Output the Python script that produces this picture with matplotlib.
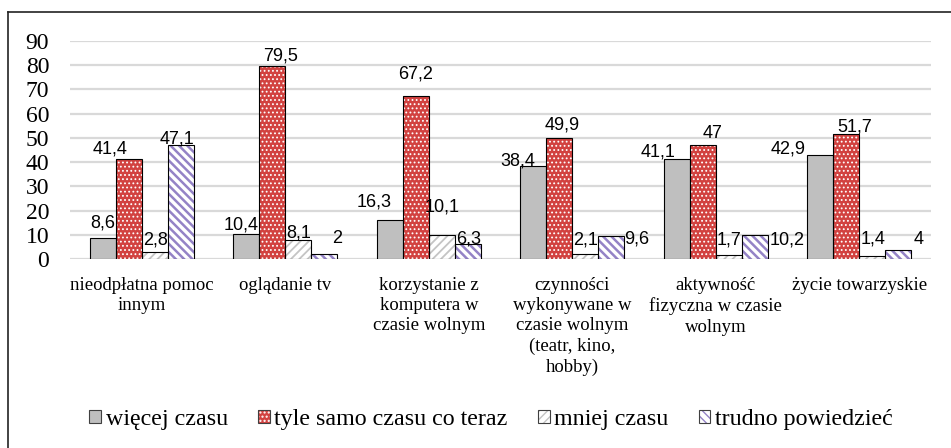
import matplotlib
matplotlib.use("Agg")
import matplotlib.pyplot as plt
import numpy as np
from matplotlib.patches import Patch
from matplotlib.lines import Line2D
from matplotlib.legend_handler import HandlerTuple

categories = ["nieodpłatna pomoc\ninnym", "oglądanie tv",
              "korzystanie z\nkomputera w\nczasie wolnym",
              "czynności\nwykonywane w\nczasie wolnym\n(teatr, kino,\nhobby)",
              "aktywność\nfizyczna w czasie\nwolnym", "życie towarzyskie"]
series_names = ["więcej czasu", "tyle samo czasu co teraz", "mniej czasu", "trudno powiedzieć"]
more = [8.6, 10.4, 16.3, 38.4, 41.1, 42.9]
same = [41.4, 79.5, 67.2, 49.9, 47, 51.7]
less = [2.8, 8.1, 10.1, 2.1, 1.7, 1.4]
hard = [47.1, 2, 6.3, 9.6, 10.2, 4]
yticks = [0, 10, 20, 30, 40, 50, 60, 70, 80, 90]

# label offsets (pixels) relative to bar top-center
off_more = [(0, 10.7), (-5.2, 5), (-15.7, 13), (-15.7, 1), (-18.7, 2.8), (-32, 1.8)]
off_same = [(-18.7, 5.4), (8, 6.2), (0, 17.8), (3, 8.8), (10, 7.4), (8, 2)]
off_less = [(0.8, 8.2), (0, 2.3), (0.5, 23), (0, 10), (0, 11), (0.8, 12)]
off_hard = [(-3.8, 1.6), (13, 11), (1, 0.7), (25, -8), (32, -9.5), (20, 5.6)]

styles = [
    dict(face="#bfbfbf", hatch=None, hcol=None, hlw=1.0),
    dict(face="#d24240", hatch="....", hcol="white", hlw=0.8),
    dict(face="white", hatch="////", hcol="#c4c4c4", hlw=1.3),
    dict(face="white", hatch="\\\\\\\\", hcol="#9483c6", hlw=1.8),
]

SERIF = "Liberation Serif"
SANS = "Liberation Sans"

W, H = 951, 448
fig = plt.figure(figsize=(W / 100, H / 100), dpi=100)
ax = fig.add_axes([70 / W, (H - 259.3) / H, (931 - 70) / W, (259.3 - 40.7) / H])

x = np.arange(len(categories))
bw = 0.181
data = [more, same, less, hard]
offs = [off_more, off_same, off_less, off_hard]
handles = []
for i, (vals, st) in enumerate(zip(data, styles)):
    pos = x + (i - 1.5) * bw
    with plt.rc_context({"hatch.linewidth": st["hlw"]}):
        if st["hatch"]:
            bars_fill = ax.bar(pos, vals, bw, color=st["face"], edgecolor=st["hcol"],
                               hatch=st["hatch"], linewidth=0, zorder=2)
            for b in bars_fill:
                if hasattr(b, "set_hatch_linewidth"):
                    b.set_hatch_linewidth(st["hlw"])
            fill_h = Patch(facecolor=st["face"], edgecolor=st["hcol"], hatch=st["hatch"], linewidth=0)
        else:
            ax.bar(pos, vals, bw, color=st["face"], linewidth=0, zorder=2)
            fill_h = Patch(facecolor=st["face"], linewidth=0)
    ax.bar(pos, vals, bw, facecolor="none", edgecolor="black", linewidth=0.8, zorder=3)
    edge_h = Patch(facecolor="none", edgecolor="#404040", linewidth=0.8)
    handles.append((fill_h, edge_h))
    for xp, v, (dx, dy) in zip(pos, vals, offs[i]):
        ax.annotate(f"{v:g}".replace(".", ","), (xp, v), xytext=(dx, dy),
                    textcoords="offset pixels", ha="center", va="baseline",
                    fontsize=13, family=SANS, color="black", zorder=5)

ax.set_xlim(-0.5, len(categories) - 0.5)
ax.set_ylim(0, 90)
ax.set_yticks(yticks)
ax.set_yticklabels([str(t) for t in yticks], fontsize=17, family=SERIF)
ax.set_xticks(x)
ax.set_xticklabels(categories, fontsize=13.5, family=SERIF, linespacing=1.26)
ax.tick_params(axis="y", length=0, pad=15)
ax.tick_params(axis="x", length=0, pad=12.5)
for s in ax.spines.values():
    s.set_visible(False)
ax.grid(axis="y", color="#d9d9d9", linewidth=1.6, zorder=0)
ax.set_axisbelow(True)

leg = fig.legend(handles, series_names, loc="center", bbox_to_anchor=(491 / W, (H - 419.5) / H),
                 ncol=4, frameon=False, handler_map={tuple: HandlerTuple(ndivide=1)},
                 prop={"family": SERIF, "size": 17.3}, handlelength=0.49, handleheight=0.49,
                 handletextpad=0.2, columnspacing=1.25)

# outer frame (top and left visible)
fig.add_artist(Line2D([8 / W, 1], [1 - 12 / H, 1 - 12 / H], transform=fig.transFigure,
                      color="#222222", linewidth=1.2))
fig.add_artist(Line2D([8 / W, 8 / W], [0, 1 - 12 / H], transform=fig.transFigure,
                      color="#222222", linewidth=1.2))

fig.savefig("out.png", dpi=100)
